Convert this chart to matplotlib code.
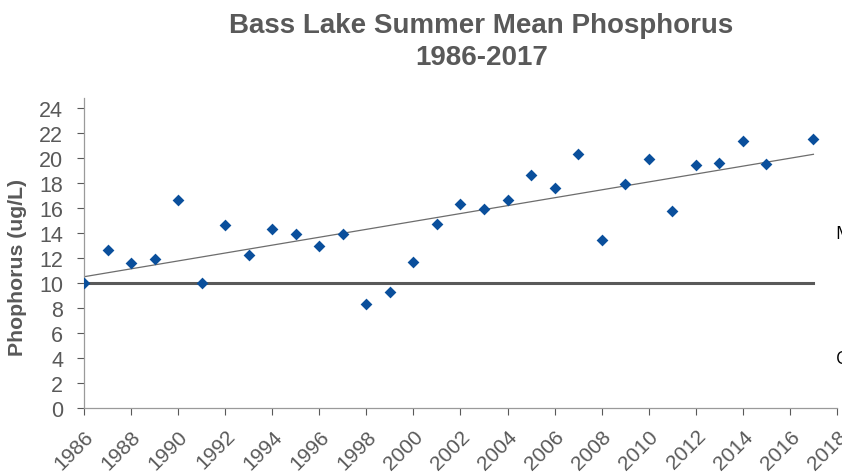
import numpy as np
import matplotlib
matplotlib.use("Agg")
import matplotlib.pyplot as plt

plt.rcParams['font.family'] = ['Liberation Sans', 'DejaVu Sans']

# summer mean total phosphorus, ug/L (no sample in 2016)
years = [1986, 1987, 1988, 1989, 1990, 1991, 1992, 1993, 1994, 1995, 1996,
         1997, 1998, 1999, 2000, 2001, 2002, 2003, 2004, 2005, 2006, 2007,
         2008, 2009, 2010, 2011, 2012, 2013, 2014, 2015, 2017]
phos = [10.0, 12.6, 11.6, 11.9, 16.6, 10.0, 14.6, 12.2, 14.3, 13.9, 12.9,
        13.9, 8.3, 9.3, 11.7, 14.7, 16.3, 15.9, 16.6, 18.6, 17.6, 20.3,
        13.4, 17.9, 19.9, 15.7, 19.4, 19.6, 21.3, 19.5, 21.5]
threshold = 10
year_ticks = list(range(1986, 2019, 2))
phos_ticks = list(range(0, 25, 2))

grey = '#595959'

fig = plt.figure(figsize=(8.42, 4.77), dpi=100)
ax = fig.add_axes([0.0998, 0.1426, 0.8942, 0.6509])

# trophic boundary
ax.plot([years[0], years[-1]], [threshold, threshold], color='#595959', lw=2.2, zorder=1)

# linear trend
coef = np.polyfit(years, phos, 1)
tx = np.array([years[0], years[-1]])
ax.plot(tx, np.polyval(coef, tx), color='#6d6d6d', lw=0.9, zorder=2)

ax.scatter(years, phos, marker='D', s=36, color='#0a4f9c', zorder=3, linewidths=0)

ax.set_xlim(1986, 2018)
ax.set_ylim(0, 24.8)
ax.set_xticks(year_ticks)
ax.set_yticks(phos_ticks)
ax.tick_params(axis='x', labelsize=15, colors=grey, length=5, width=0.8, direction='out', pad=8)
ax.tick_params(axis='y', labelsize=15.5, colors=grey, length=5, width=0.8, direction='out', pad=10)
for lab in ax.get_xticklabels():
    lab.set_rotation(45)
    lab.set_horizontalalignment('right')
    lab.set_verticalalignment('top')
    lab.set_rotation_mode('anchor')
for side in ['top', 'right']:
    ax.spines[side].set_visible(False)
for side in ['left', 'bottom']:
    ax.spines[side].set_color('#9a9a9a')
    ax.spines[side].set_linewidth(0.9)

fig.text(17.5 / 842, 0.44, 'Phophorus (ug/L)', rotation=90, ha='center', va='center',
         fontsize=15.3, fontweight='bold', color=grey)

fig.text(0.572, 1 - 33 / 477, 'Bass Lake Summer Mean Phosphorus', ha='center', va='baseline',
         fontsize=20, fontweight='bold', color=grey)
fig.text(0.572, 1 - 65 / 477, '1986-2017', ha='center', va='baseline',
         fontsize=20, fontweight='bold', color=grey)

# class labels on the right edge
fig.text(835 / 842, 1 - 239 / 477, 'Mesotrophic', fontsize=13, family='Open Sans', color='black', va='baseline')
fig.text(836 / 842, 1 - 364 / 477, 'Oligotrophic', fontsize=13, family='Open Sans', color='black', va='baseline')

fig.savefig('out.png', dpi=100)
